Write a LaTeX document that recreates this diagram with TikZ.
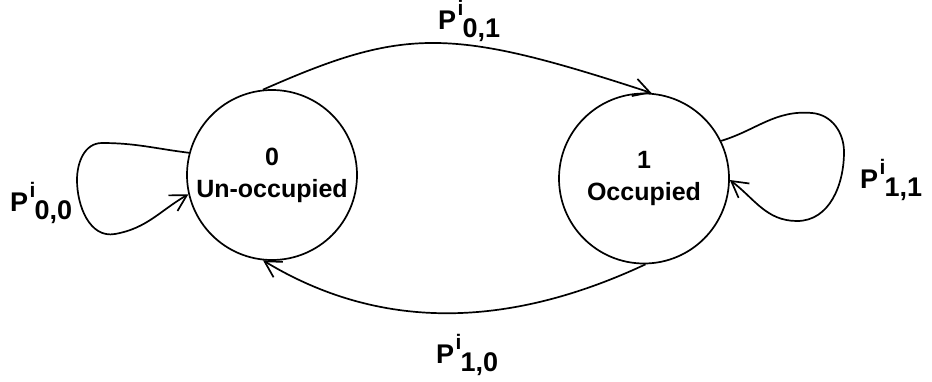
\documentclass[tikz,border=0pt]{standalone}
\usepackage{fontspec}
\setmainfont{Liberation Sans}
\usetikzlibrary{arrows.meta}
\newcommand{\plab}[1]{P\hspace{1.5pt}\rlap{\raisebox{14pt}{\fontsize{21}{21}\selectfont i}}\hspace{5pt}\raisebox{-8pt}{#1}}
\begin{document}
\begin{tikzpicture}[x=1pt,y=-1pt,
  state/.style={circle,draw,line width=1.7pt,minimum size=170pt,inner sep=0pt,
    align=center,font=\fontsize{25}{32}\selectfont\bfseries},
  lbl/.style={font=\fontsize{27}{30}\selectfont\bfseries,inner sep=0pt,anchor=base west},
  trans/.style={line width=1.7pt,-{Straight Barb[length=16pt,width=18pt,line width=1.7pt]}}]
\useasboundingbox (0,0) rectangle (932,381);
\node[state] (L) at (272,175) {0\\Un-occupied};
\node[state] (R) at (644,178.5) {1\\Occupied};
\coordinate (lt) at (102,143);
\coordinate (ll) at (77,180);
\coordinate (lb) at (115,234);
\coordinate (rt) at (812,113);
\coordinate (rr) at (844,152);
\coordinate (rb) at (797,221);
\draw[trans] (L.96) .. controls (405,27) and (450,27) .. (R.85);
\draw[trans] (R.271) .. controls (505,330) and (378,330) .. (L.264);
\draw[trans] (L.165) to[out=173,in=0] (lt) to[out=180,in=90] (ll)
  to[out=-90,in=190] (lb) to[out=10,in=210] (L.193);
\draw[trans] (R.26) to[out=17,in=175] (rt) to[out=-5,in=90] (rr)
  to[out=-90,in=0] (rb) to[out=180,in=-37] (R.-1);
\node[lbl] (l01) at (438,29) {\plab{0,1}};
\node[lbl] (l00) at (10,211) {\plab{0,0}};
\node[lbl] (l11) at (860,188) {\plab{1,1}};
\node[lbl] (l10) at (436,363) {\plab{1,0}};
\end{tikzpicture}
\end{document}
